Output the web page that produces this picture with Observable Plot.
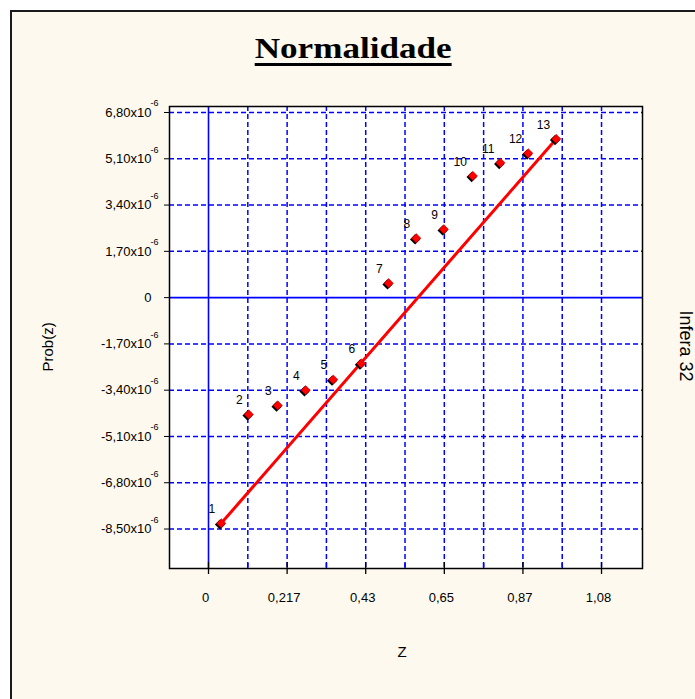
<!DOCTYPE html>
<html>
<head>
<meta charset="utf-8">
<script src="https://cdn.jsdelivr.net/npm/d3@7"></script>
<script src="https://cdn.jsdelivr.net/npm/@observablehq/plot@0.6"></script>
<style>
  html, body { margin: 0; padding: 0; background: #ffffff; overflow: hidden; }
  #wrap { position: relative; width: 695px; height: 699px; overflow: hidden; }
  #box { position: absolute; left: 10px; top: 10px; width: 760px; height: 760px;
         border-left: 2px solid #1a1a1a; border-top: 2px solid #1a1a1a; background: #fef9ee; }
  #title { position: absolute; left: 0; top: 33px; width: 706px; text-align: center;
           font: bold 30px "Liberation Serif", "Times New Roman", serif; line-height: 30px; }
  #title span { display: inline-block; transform: scaleX(1.17);
           text-decoration: underline; text-decoration-thickness: 3px; text-underline-offset: 5px; }
  #chart { position: absolute; left: 0; top: 0; }
</style>
</head>
<body>
<div id="wrap">
  <div id="box"></div>
  <div id="title"><span>Normalidade</span></div>
  <div id="chart"></div>
</div>
<script>
// ---- data ----
const pointIds   = ["1","2","3","4","5","6","7","8","9","10","11","12","13"];
const zValues    = [0.035, 0.111, 0.191, 0.268, 0.344, 0.421, 0.497, 0.573, 0.649, 0.729, 0.805, 0.882, 0.959];
const probValues = [-8.29e-6, -4.29e-6, -3.96e-6, -3.40e-6, -3.01e-6, -2.42e-6, 0.53e-6, 2.18e-6, 2.51e-6, 4.47e-6, 4.95e-6, 5.30e-6, 5.83e-6];

const fitLineZ    = [0.035, 0.959];
const fitLineProb = [-8.29e-6, 5.83e-6];

const xTicks      = [0, 0.2168, 0.4336, 0.6504, 0.8672, 1.084];
const xTickLabels = ["0", "0,217", "0,43", "0,65", "0,87", "1,08"];
const xGrid       = [0.1084, 0.2168, 0.3252, 0.4336, 0.5420, 0.6504, 0.7588, 0.8672, 0.9756, 1.0840];

const yTicks      = [6.8e-6, 5.1e-6, 3.4e-6, 1.7e-6, 0, -1.7e-6, -3.4e-6, -5.1e-6, -6.8e-6, -8.5e-6];
const yTickLabels = ["6,80x10", "5,10x10", "3,40x10", "1,70x10", "0", "-1,70x10", "-3,40x10", "-5,10x10", "-6,80x10", "-8,50x10"];
const yExponent   = "-6";

const xDomain = [-0.1076, 1.197];
const yDomain = [-9.95e-6, 7.02e-6];

const xLabel = "Z";
const yLabel = "Prob(z)";
const sideLabel = "Infera 32";

// ---- build ----
const points = zValues.map((z, i) => ({z, p: probValues[i], id: pointIds[i]}));
const fit = fitLineZ.map((z, i) => ({z, p: fitLineProb[i]}));
const yGridDashed = yTicks.filter(d => d !== 0);
const xGridDashed = xGrid;
const xMinor = xGrid.filter(d => !xTicks.some(t => Math.abs(t - d) < 1e-6));

const chart = Plot.plot({
  width: 695,
  height: 699,
  marginLeft: 169,
  marginRight: 53,
  marginTop: 106,
  marginBottom: 131,
  style: {background: "transparent", fontFamily: "'Liberation Sans', Arial, sans-serif", fontSize: "13px", color: "#000"},
  x: {domain: xDomain},
  y: {domain: yDomain},
  marks: [
    Plot.frame({fill: "white", stroke: null}),
    Plot.ruleY(yGridDashed, {y: d => d, stroke: "#0000ff", strokeWidth: 1.5, strokeDasharray: "5,3"}),
    Plot.ruleX(xGridDashed, {x: d => d, stroke: "#0000ff", strokeWidth: 1.5, strokeDasharray: "5,3"}),
    Plot.ruleY([0], {y: d => d, stroke: "#0000ff", strokeWidth: 1.6}),
    Plot.ruleX([0], {x: d => d, stroke: "#0000ff", strokeWidth: 1.6}),
    Plot.tickX(xMinor, {x: d => d, stroke: "#0000ff", strokeWidth: 1.5, insetTop: 457}),
    Plot.tickX(xTicks, {x: d => d, stroke: "#000", strokeWidth: 1.3, insetTop: 456, insetBottom: -6}),
    Plot.axisX({ticks: xTicks, tickFormat: (d) => xTickLabels[xTicks.indexOf(d)], tickSize: 0, tickPadding: 24, dx: -3, label: null, fontSize: 13}),
    Plot.axisY({ticks: yTicks, tickFormat: (d) => yTickLabels[yTicks.indexOf(d)], tickSize: 5, tickPadding: 13, label: null, stroke: "#000", fontSize: 13}),
    Plot.text(yGridDashed, {y: d => d, frameAnchor: "left", text: () => yExponent, textAnchor: "start", dx: -19, dy: -9, fontSize: 9}),
    Plot.line(fit, {x: "z", y: "p", stroke: "#ff0000", strokeWidth: 3}),
    Plot.dot(points, {x: "z", y: "p", symbol: "diamond2", r: 4.6, fill: "#000", dx: -1.2, dy: 1.2}),
    Plot.dot(points, {x: "z", y: "p", symbol: "diamond2", r: 4.2, fill: "#ff0000", stroke: "#800", strokeWidth: 0.5}),
    Plot.text(points, {x: "z", y: "p", text: "id", textAnchor: "end", dx: -6, dy: -14, fontSize: 12, fill: "#000"}),
    Plot.frame({stroke: "#000", strokeWidth: 1.5}),
    Plot.text([xLabel], {frameAnchor: "bottom", text: d => d, dx: -4, dy: 88, fontSize: 15}),
    Plot.text([yLabel], {frameAnchor: "left", text: d => d, dx: -121, dy: 34, rotate: -90, fontSize: 15}),
    Plot.text([sideLabel], {frameAnchor: "right", text: d => d, dx: 43, dy: 44, rotate: 90, fontSize: 18})
  ]
});
document.getElementById("chart").appendChild(chart);
</script>
</body>
</html>
